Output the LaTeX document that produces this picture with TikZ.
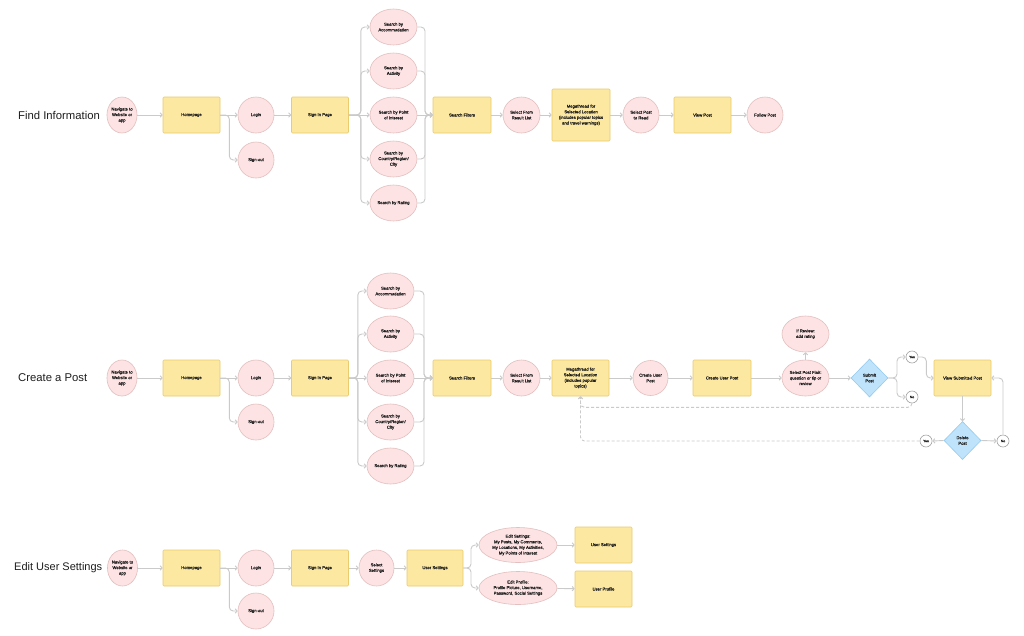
\documentclass[tikz,border=0pt]{standalone}
\usepackage{fontspec}
\setmainfont{Liberation Sans}
\newfontfamily\nodefont[FakeBold=0.6]{Liberation Sans}
\usetikzlibrary{shapes.geometric,arrows.meta}
\definecolor{pinkf}{HTML}{FDE3E3}
\definecolor{pinkb}{HTML}{E3BFBF}
\definecolor{yelf}{HTML}{FCE8A0}
\definecolor{yelb}{HTML}{EACB6E}
\definecolor{bluf}{HTML}{BFE3FA}
\definecolor{blub}{HTML}{95CBEE}
\definecolor{linec}{HTML}{CACACA}
\definecolor{txt}{HTML}{1E1E1E}
\begin{document}
\begin{tikzpicture}[x=1pt,y=-1pt,
  base/.style={inner sep=0pt, align=center, font=\nodefont\fontsize{4.2}{5.6}\selectfont, text=txt, line width=0.6pt},
  pc/.style={base, ellipse, draw=pinkb, fill=pinkf, minimum width=36pt, minimum height=36pt},
  pe/.style={base, ellipse, draw=pinkb, fill=pinkf, minimum width=47pt, minimum height=36pt},
  yb/.style={base, rectangle, rounded corners=1pt, draw=yelb, fill=yelf, minimum width=57pt, minimum height=36pt},
  dm/.style={base, diamond, draw=blub, fill=bluf, minimum width=37pt, minimum height=38pt},
  yn/.style={base, circle, draw=linec!80!black, fill=white, minimum size=12pt, font=\nodefont\fontsize{3.4}{4}\selectfont},
  ttl/.style={anchor=west, inner sep=0pt, font=\fontsize{11.3}{13}\selectfont, text=txt},
  conn/.style={draw=linec, line width=0.9pt, rounded corners=4pt, -{Straight Barb[length=2pt,width=4.5pt]}},
  dconn/.style={conn, dash pattern=on 3pt off 2pt}
]
\useasboundingbox[fill=white] (0,0) rectangle (1024,635);

% ================= Row 1: Find Information =================
\node[ttl] (t1) at (18,115) {Find Information};
\node[pc, minimum width=30pt] (n1) at (122,115) {Navigate to\\Website or\\app};
\node[yb] (h1) at (191.5,115) {Homepage};
\node[pc] (l1) at (256,115) {Login};
\node[pc] (so1) at (256,160) {Sign-out};
\node[yb] (sp1) at (320,115) {Sign In Page};
\node[pe] (a1) at (393.5,27) {Search by\\Accommodation};
\node[pe] (b1) at (393.5,71) {Search by\\Activity};
\node[pe] (c1) at (393.5,115) {Search by Point\\of Interest};
\node[pe] (d1) at (393.5,159) {Search by\\Country/Region/\\City};
\node[pe] (e1) at (393.5,203) {Search by Rating};
\node[yb, minimum width=58pt] (sf1) at (462,115) {Search Filters};
\node[pc, minimum width=37pt] (sr1) at (521.5,115) {Select From\\Result List};
\node[yb, minimum width=58pt, minimum height=52pt] (m1) at (581,115) {Megathread for\\Selected Location\\(includes popular topics\\and travel warnings)};
\node[pc] (rp1) at (641,115) {Select Post\\to Read};
\node[yb] (vp1) at (702.5,115) {View Post};
\node[pc] (fp1) at (765,115) {Follow Post};
\coordinate (j1) at (425,115);

\draw[conn] (n1) -- (h1);
\draw[conn] (h1) -- (l1);
\draw[conn] (h1.east) -- ++(9,0) |- (so1.west);
\draw[conn] (l1) -- (sp1);
\draw[conn] (sp1) -- (c1);
\foreach \s in {a1,b1,d1,e1} {
  \draw[conn] (sp1.east) -- ++(12,0) |- (\s.west);
  \draw[conn] (\s.east) -| (j1) -- (sf1.west);
}
\draw[conn] (c1) -- (sf1);
\draw[conn] (sf1) -- (sr1);
\draw[conn] (sr1) -- (m1);
\draw[conn] (m1) -- (rp1);
\draw[conn] (rp1) -- (vp1);
\draw[conn] (vp1) -- (fp1);

% ================= Row 2: Create a Post =================
\node[ttl] (t2) at (18,378) {Create a Post};
\node[pc, minimum width=30pt] (n2) at (122,378) {Navigate to\\Website or\\app};
\node[yb] (h2) at (191.5,378) {Homepage};
\node[pc] (l2) at (256,378) {Login};
\node[pc] (so2) at (256,422) {Sign-out};
\node[yb] (sp2) at (320,378) {Sign In Page};
\node[pe] (a2) at (390.5,291) {Search by\\Accommodation};
\node[pe] (b2) at (390.5,334) {Search by\\Activity};
\node[pe] (c2) at (390.5,378) {Search by Point\\of Interest};
\node[pe] (d2) at (390.5,422) {Search by\\Country/Region/\\City};
\node[pe] (e2) at (390.5,466) {Search by Rating};
\node[yb, minimum width=58pt] (sf2) at (462,378) {Search Filters};
\node[pc, minimum width=37pt] (sr2) at (521.5,378) {Select From\\Result List};
\node[yb, minimum width=57pt] (m2) at (580.5,378) {Megathread for\\Selected Location\\(includes popular\\topics)};
\node[pc, minimum width=35pt, minimum height=35pt] (cu2) at (650.5,378) {Create User\\Post};
\node[yb, minimum width=58pt] (cr2) at (722,378) {Create User Post};
\node[pe] (fl2) at (805.5,378) {Select Post Flair:\\question or tip or\\review};
\node[pe] (rv2) at (805.5,334) {If Review:\\add rating};
\node[dm] (sb2) at (869.5,378) {Submit\\Post};
\node[yn] (ya2) at (912,357) {Yes};
\node[yn] (na2) at (912,397) {No};
\node[yb] (vs2) at (962.5,378) {View Submitted Post};
\node[dm] (dl2) at (962.5,440.5) {Delete\\Post};
\node[yn] (yb2) at (926,441) {Yes};
\node[yn] (nb2) at (1003,441) {No};
\coordinate (j2) at (424,378);
\coordinate (bs2) at (897,378);

\draw[conn] (n2) -- (h2);
\draw[conn] (h2) -- (l2);
\draw[conn] (h2.east) -- ++(9,0) |- (so2.west);
\draw[conn] (l2) -- (sp2);
\draw[conn] (sp2) -- (c2);
\foreach \s in {a2,b2,d2,e2} {
  \draw[conn] (sp2.east) -- ++(9,0) |- (\s.west);
  \draw[conn] (\s.east) -| (j2) -- (sf2.west);
}
\draw[conn] (c2) -- (sf2);
\draw[conn] (sf2) -- (sr2);
\draw[conn] (sr2) -- (m2);
\draw[conn] (m2) -- (cu2);
\draw[conn] (cu2) -- (cr2);
\draw[conn] (cr2) -- (fl2);
\draw[conn] (fl2) -- (rv2);
\draw[conn] (fl2) -- (sb2);
\draw[conn] (sb2.east) -- (bs2) |- (ya2.west);
\draw[conn] (sb2.east) -- (bs2) |- (na2.west);
\draw[conn] (ya2.east) -- ++(8,0) |- (vs2.west);
\draw[conn] (vs2.south) -- (dl2.north);
\draw[conn] (dl2.west) -- (yb2.east);
\draw[conn] (dl2.east) -- (nb2.west);
\draw[conn] (nb2.north) |- (vs2.east);
\draw[dconn] (na2.south) -- ++(0,4) -| (m2.south);
\draw[dconn] (yb2.west) -| (m2.south);

% ================= Row 3: Edit User Settings =================
\node[ttl, font=\fontsize{11}{13}\selectfont] (t3) at (14,568) {Edit User Settings};
\node[pc, minimum width=30pt] (n3) at (122.5,568) {Navigate to\\Website or\\app};
\node[yb] (h3) at (191.5,568) {Homepage};
\node[pc] (l3) at (256,568) {Login};
\node[pc] (so3) at (256,611) {Sign-out};
\node[yb] (sp3) at (320,568) {Sign In Page};
\node[pc, minimum width=35pt] (ss3) at (376.5,568) {Select\\Settings};
\node[yb, minimum width=56pt] (us3) at (435,568) {User Settings};
\node[pc, minimum width=78pt, minimum height=35pt] (es3) at (518,545) {Edit Settings:\\My Posts, My Comments,\\My Locations, My Activities,\\My Points of Interest};
\node[pc, minimum width=78pt, minimum height=33pt] (ep3) at (518,588) {Edit Profile:\\Profile Picture, Username,\\Password, Social Settings};
\node[yb] (ur3) at (603.5,545) {User Settings};
\node[yb] (up3) at (603.5,589) {User Profile};
\coordinate (bs3) at (471,568);

\draw[conn] (n3) -- (h3);
\draw[conn] (h3) -- (l3);
\draw[conn] (h3.east) -- ++(9,0) |- (so3.west);
\draw[conn] (l3) -- (sp3);
\draw[conn] (sp3) -- (ss3);
\draw[conn] (ss3) -- (us3);
\draw[conn] (us3.east) -- (bs3) |- (es3.west);
\draw[conn] (us3.east) -- (bs3) |- (ep3.west);
\draw[conn] (es3) -- (ur3);
\draw[conn] (ep3) -- (up3);
\end{tikzpicture}
\end{document}
